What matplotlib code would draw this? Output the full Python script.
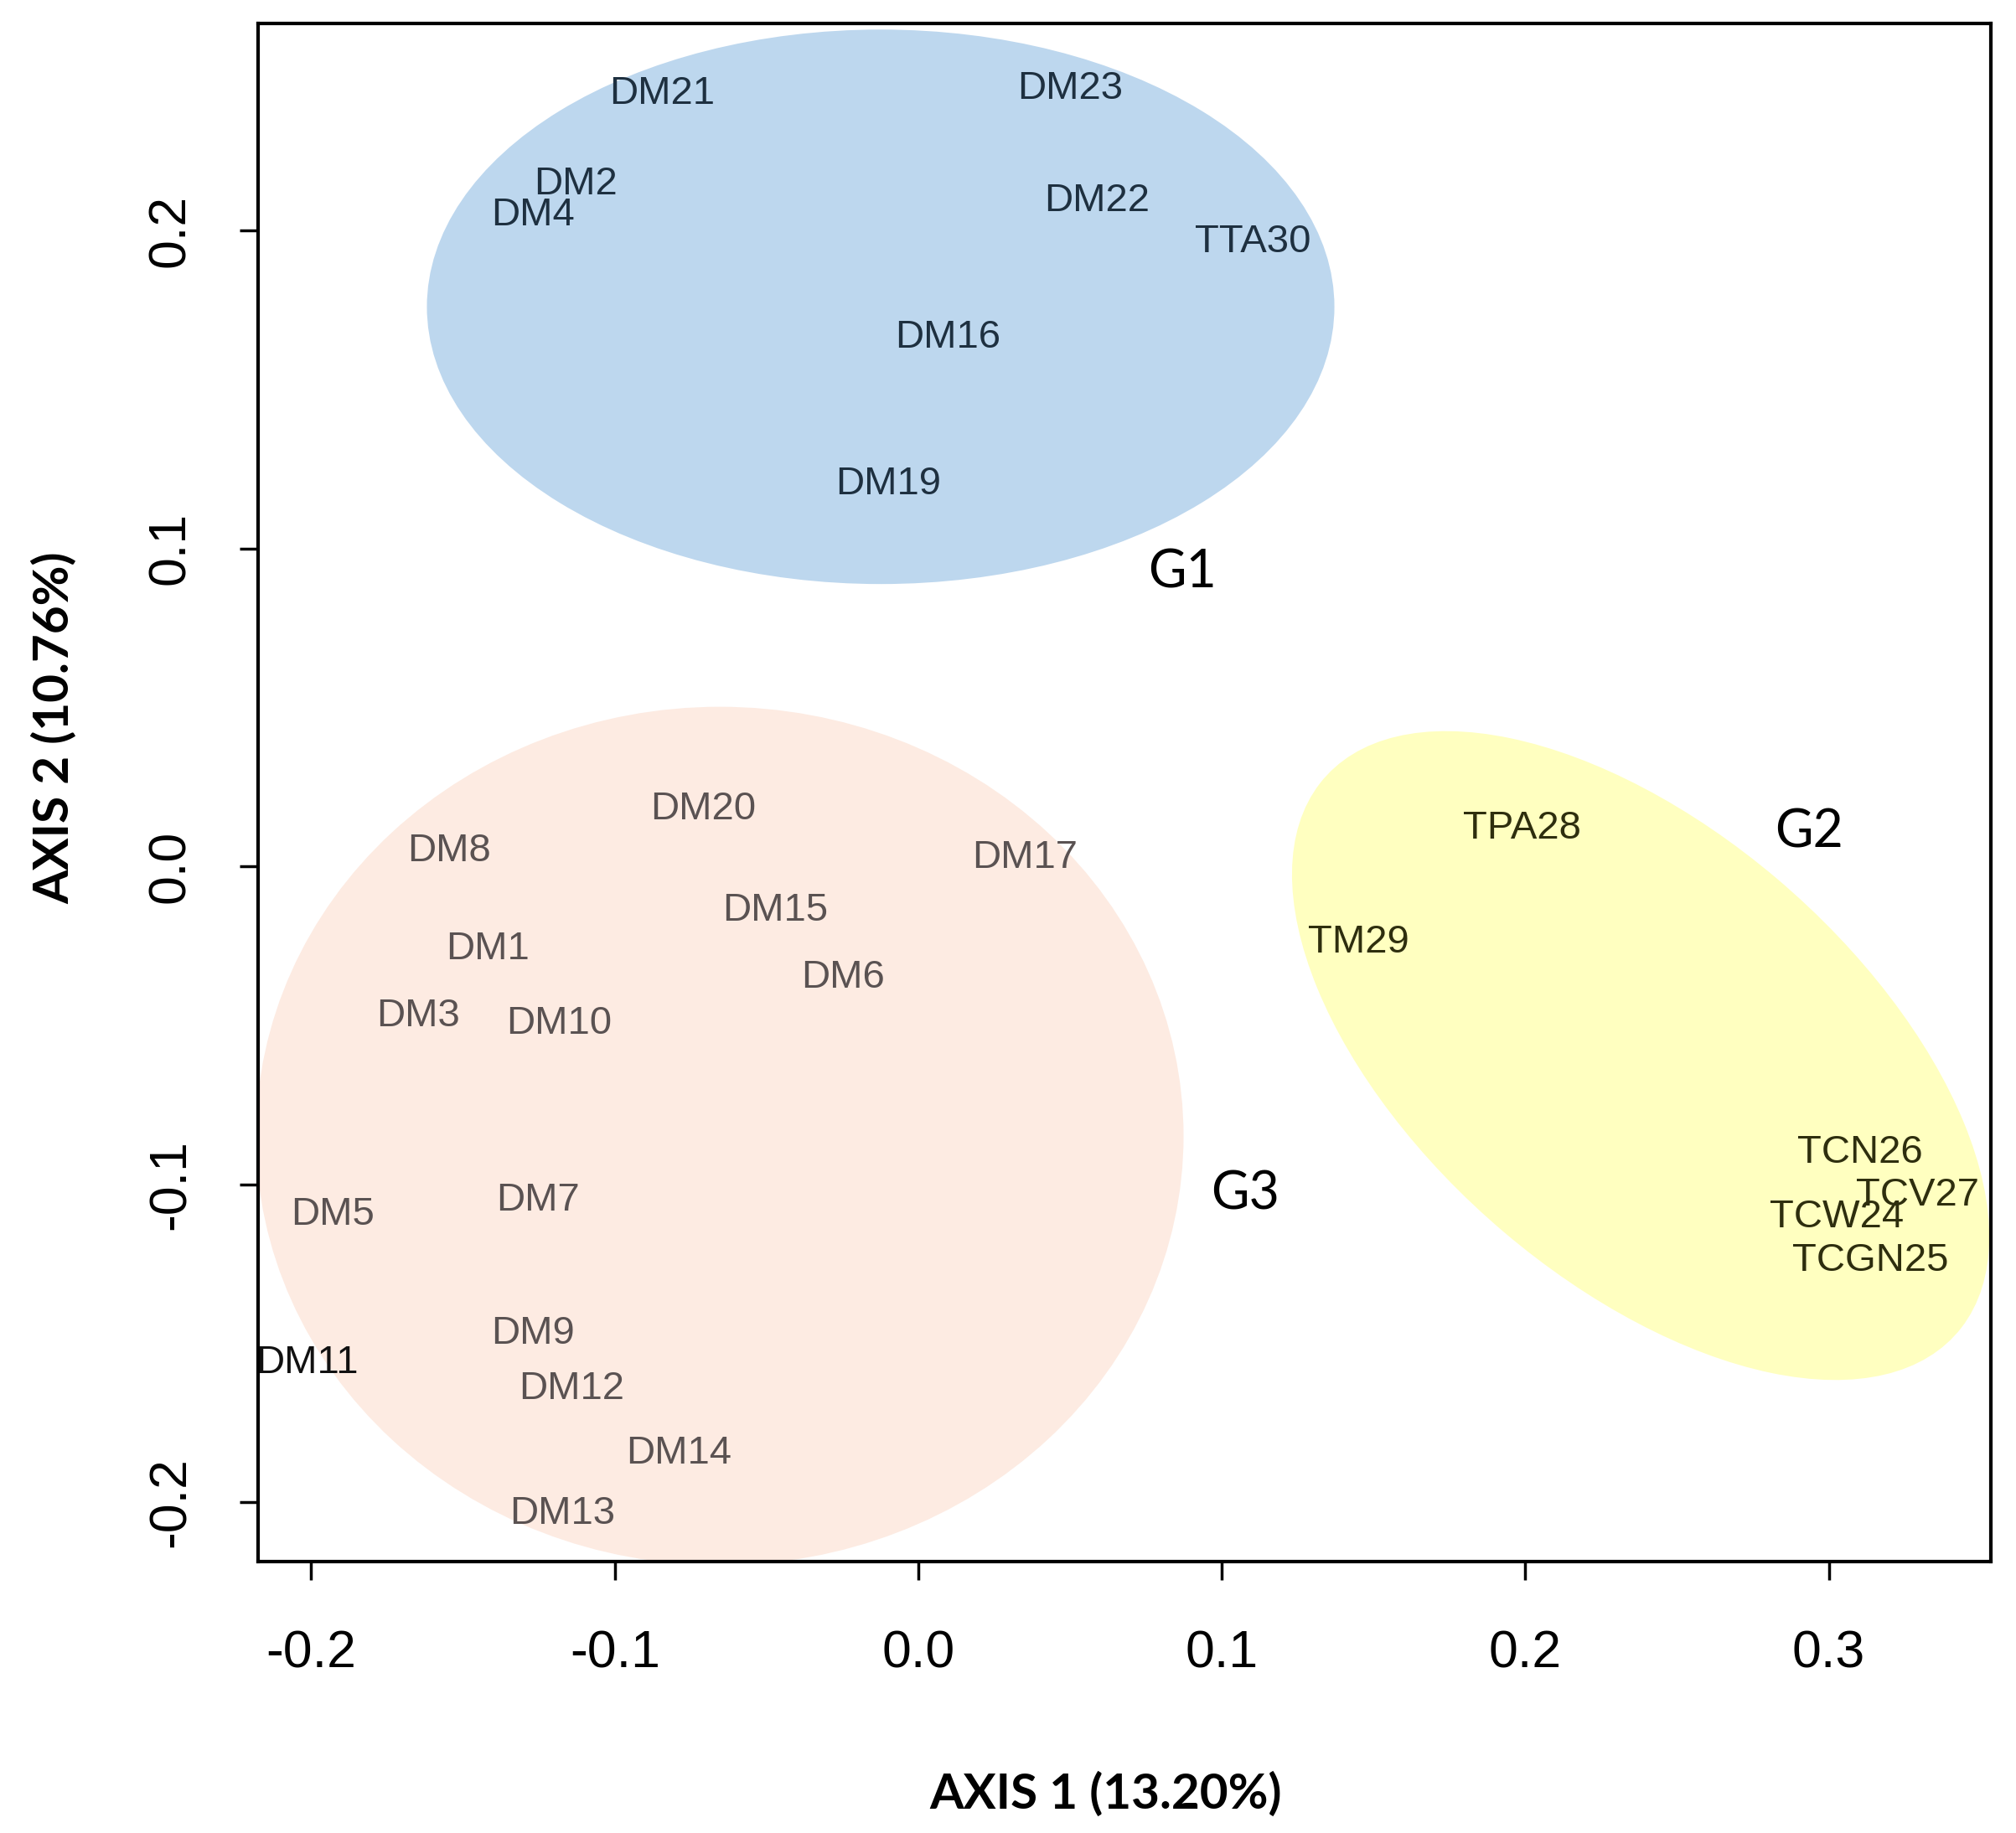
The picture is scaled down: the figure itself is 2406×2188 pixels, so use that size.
import matplotlib
matplotlib.use("Agg")
import matplotlib.pyplot as plt
from matplotlib.patches import Ellipse

# sample labels and coordinates (axis 1, axis 2)
g1_names = ["DM21", "DM23", "DM2", "DM4", "DM22", "TTA30", "DM16", "DM19"]
g1_x = [-0.0845, 0.050, -0.113, -0.127, 0.0589, 0.1103, 0.0097, -0.0098]
g1_y = [0.243, 0.2446, 0.2146, 0.2049, 0.2093, 0.1963, 0.1663, 0.1201]

g3_names = ["DM20", "DM8", "DM17", "DM15", "DM1", "DM6", "DM3", "DM10",
            "DM5", "DM7", "DM9", "DM11", "DM12", "DM14", "DM13"]
g3_x = [-0.071, -0.1546, 0.0351, -0.0472, -0.1418, -0.0247, -0.1648, -0.1185,
        -0.1928, -0.1253, -0.127, -0.2013, -0.1143, -0.079, -0.1172]
g3_y = [0.0179, 0.0049, 0.0028, -0.0138, -0.026, -0.0349, -0.0471, -0.0495,
        -0.1095, -0.1051, -0.1469, -0.1562, -0.1643, -0.1846, -0.2037]

g2_names = ["TPA28", "TM29", "TCN26", "TCV27", "TCW24", "TCGN25"]
g2_x = [0.199, 0.1451, 0.3102, 0.3293, 0.3025, 0.3136]
g2_y = [0.0118, -0.0239, -0.090, -0.1034, -0.1103, -0.1241]

# group ellipses: center x, center y, width, height, angle
groups = ["G1", "G2", "G3"]
ell_cx = [-0.0124, 0.2380, -0.0654]
ell_cy = [0.176, -0.0595, -0.0848]
ell_w = [0.299, 0.272, 0.3056]
ell_h = [0.1744, 0.143, 0.270]
ell_ang = [0, -39, 0]
ell_colors = ["#BDD7EE", "#FFFFC0", "#FDEBE2"]
group_lx = [0.0869, 0.2936, 0.1077]
group_ly = [0.0925, 0.0106, -0.103]

fig = plt.figure(figsize=(24.06, 21.88), dpi=100)
ax = fig.add_axes([0.1282, 0.148, 0.8595, 0.839])

for i in range(len(groups)):
    e = Ellipse((ell_cx[i], ell_cy[i]), ell_w[i], ell_h[i], angle=ell_ang[i],
                facecolor=ell_colors[i], edgecolor="none", zorder=1)
    ax.add_patch(e)
    ax.text(group_lx[i], group_ly[i], groups[i], fontsize=45, family="Lato",
            ha="center", va="center", color="black", zorder=3)

label_font = "Liberation Sans"
for names, xs, ys, col in [(g1_names, g1_x, g1_y, "#1E3040"),
                           (g3_names, g3_x, g3_y, "#5A5252"),
                           (g2_names, g2_x, g2_y, "#2E2E0E")]:
    for n, x, y in zip(names, xs, ys):
        c = "#111111" if n == "DM11" else col
        ax.text(x, y, n, fontsize=34, family=label_font, ha="center",
                va="center", color=c, zorder=3)

ax.set_xlim(-0.2174, 0.3535)
ax.set_ylim(-0.2187, 0.265)
ax.set_xticks([-0.2, -0.1, 0.0, 0.1, 0.2, 0.3])
ax.set_yticks([-0.2, -0.1, 0.0, 0.1, 0.2])
ax.set_xticklabels(["-0.2", "-0.1", "0.0", "0.1", "0.2", "0.3"])
ax.set_yticklabels(["-0.2", "-0.1", "0.0", "0.1", "0.2"], rotation=90, va="center")
ax.tick_params(axis="both", length=16, width=2.5, labelsize=45, color="black")
ax.tick_params(axis="x", pad=42)
ax.tick_params(axis="y", pad=38)
for t in ax.get_xticklabels() + ax.get_yticklabels():
    t.set_family(label_font)
for s in ax.spines.values():
    s.set_linewidth(3)

ax.set_xlabel("AXIS 1 (13.20%)", fontsize=42, family="Lato", fontweight="bold")
ax.set_ylabel("AXIS 2 (10.76%)", fontsize=42, family="Lato", fontweight="bold")
ax.xaxis.set_label_coords(0.489, -0.151)
ax.yaxis.set_label_coords(-0.1175, 0.542)
ax.xaxis.label.set_va("center")
ax.yaxis.label.set_va("center")

fig.savefig("out.png", dpi=100)
